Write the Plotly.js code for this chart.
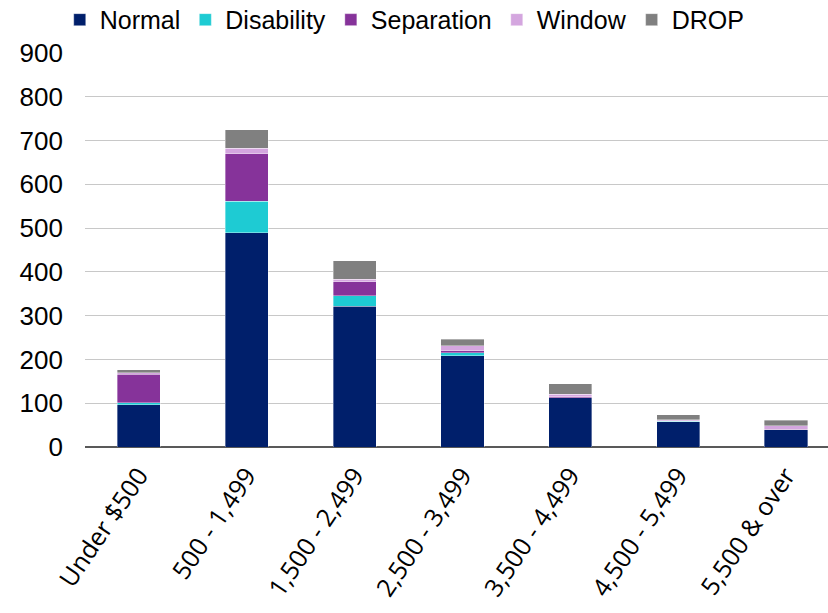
<!DOCTYPE html>
<html>
<head>
<meta charset="utf-8">
<script src="https://cdn.plot.ly/plotly-3.0.1.min.js"></script>
<style>html,body{margin:0;padding:0;background:#fff;}#chart{width:828px;height:613px;}</style>
</head>
<body>
<div id="chart"></div>
<script>
var categories = ["Under $500", "500 - 1,499", "1,500 - 2,499", "2,500 - 3,499", "3,500 - 4,499", "4,500 - 5,499", "5,500 & over"];
var normal     = [97, 489, 322, 209, 112, 58, 39];
var disability = [4, 72, 24, 6, 1, 0.5, 0];
var separation = [65, 109, 31, 5, 2, 1, 1];
var windowVals = [4, 12, 6, 11, 5, 3, 9];
var drop       = [6, 43, 42, 15, 25, 11, 12];
var yTicks = [0, 100, 200, 300, 400, 500, 600, 700, 800, 900];

var seriesNames = ["Normal", "Disability", "Separation", "Window", "DROP"];
var seriesVals = [normal, disability, separation, windowVals, drop];
var colors = ["#001F6B", "#1ECBD3", "#86339A", "#D4A6DF", "#808080"];

var traces = seriesNames.map(function(n, i){
  return {
    type: "bar", name: n, x: categories, y: seriesVals[i],
    marker: {color: colors[i], line: {color: "rgba(255,255,255,0.6)", width: 0.6}},
    hoverinfo: "x+y+name"
  };
});

var layout = {
  width: 828, height: 613,
  margin: {l: 85, r: 0, t: 53, b: 166, autoexpand: false},
  barmode: "stack",
  bargap: 0.6,
  paper_bgcolor: "#fff", plot_bgcolor: "#fff",
  font: {family: "Liberation Sans, Arial, sans-serif", color: "#000", size: 25},
  showlegend: true,
  legend: {orientation: "h", x: -0.034, xanchor: "left", y: 1.084, yanchor: "middle",
           font: {size: 25, family: "Liberation Sans, Arial, sans-serif", color: "#000"}, traceorder: "normal",
           itemwidth: 30, tracegroupgap: 0},
  xaxis: {
    type: "category", range: [-0.5, 6.39], automargin: false,
    tickangle: -56, ticklabelstandoff: 8,
    tickfont: {family: "Open Sans, sans-serif", size: 25, color: "#000"},
    showgrid: false, showline: false, ticks: "", zeroline: false
  },
  yaxis: {
    range: [0, 900], tickvals: yTicks, ticktext: yTicks.map(String), automargin: false,
    showgrid: true, gridcolor: "#C8C8C8", gridwidth: 1,
    zeroline: true, zerolinecolor: "#595959", zerolinewidth: 1.5,
    showline: false, ticks: "", ticklen: 0, ticklabelstandoff: 21,
    tickfont: {size: 26, family: "Liberation Sans, Arial, sans-serif", color: "#000"}
  }
};

Plotly.newPlot("chart", traces, layout, {displayModeBar: false, staticPlot: true});
</script>
</body>
</html>
